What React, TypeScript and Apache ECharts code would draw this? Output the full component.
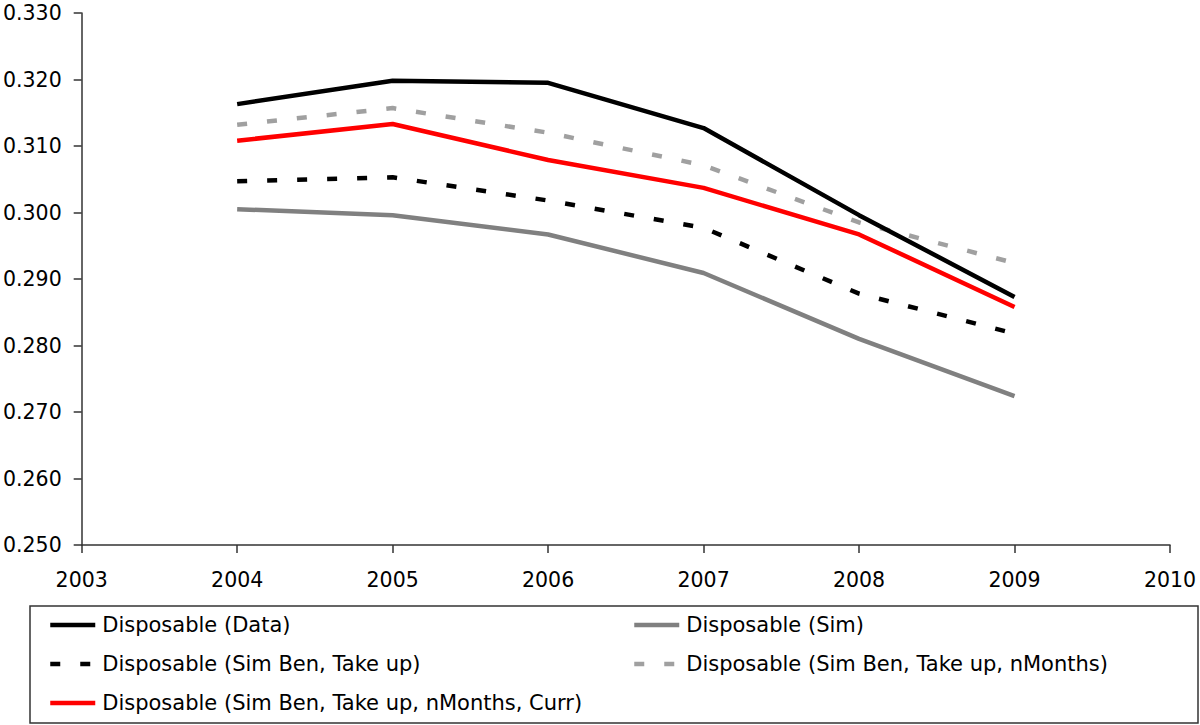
import React, { useEffect, useRef } from "react";
import * as echarts from "echarts";

const years = [2004, 2005, 2006, 2007, 2008, 2009];
const dispData = [0.3163, 0.3198, 0.3195, 0.3127, 0.2996, 0.2873];
const dispSim = [0.3005, 0.2996, 0.2967, 0.2909, 0.281, 0.2724];
const dispSimBenTakeUp = [0.3047, 0.3053, 0.3018, 0.2977, 0.2878, 0.2818];
const dispNMonths = [0.3132, 0.3157, 0.312, 0.3071, 0.2985, 0.2924];
const dispCurr = [0.3108, 0.3133, 0.3079, 0.3037, 0.2967, 0.2858];

const names = [
  "Disposable (Data)",
  "Disposable (Sim)",
  "Disposable (Sim Ben, Take up)",
  "Disposable (Sim Ben, Take up, nMonths)",
  "Disposable (Sim Ben, Take up, nMonths, Curr)",
];

const FONT = "'DejaVu Sans', 'Liberation Sans', Arial, sans-serif";

export default function App() {
  const ref = useRef<HTMLDivElement>(null);
  useEffect(() => {
    if (!ref.current) return;
    const chart = echarts.init(ref.current, undefined, { renderer: "svg" });
    const pairs = (vals: number[]) => years.map((y, i) => [y, vals[i]]);
    const mk = (name: string, vals: number[], color: string, dashed: boolean) => ({
      name,
      type: "line",
      data: pairs(vals),
      symbol: "none",
      showSymbol: false,
      lineStyle: { color, width: 4.5, type: dashed ? [10, 20] : "solid", cap: "butt" },
      itemStyle: { color },
      z: 3,
    });
    const legendCommon = {
      orient: "vertical",
      top: 613,
      padding: 0,
      itemWidth: 45,
      itemHeight: 10,
      itemGap: 15,
      itemStyle: { opacity: 0 },
      lineStyle: { width: 4.5, cap: "butt" },
      textStyle: { fontFamily: FONT, fontSize: 21, color: "#000", lineHeight: 24, padding: [0, 0, 0, 2] },
      selectedMode: false,
    };
    chart.setOption({
      animation: false,
      backgroundColor: "#fff",
      grid: { left: 78, right: 30, top: 13, bottom: 180 },
      xAxis: {
        type: "value",
        min: 2003,
        max: 2010,
        interval: 1,
        axisLine: { show: true, lineStyle: { color: "#333", width: 1.5 } },
        axisTick: { show: true, length: 8, inside: false, lineStyle: { color: "#333", width: 1.5 } },
        axisLabel: { fontFamily: FONT, fontSize: 20.5, color: "#000", margin: 24, formatter: (v: number) => String(v) },
        splitLine: { show: false },
      },
      yAxis: {
        type: "value",
        min: 0.25,
        max: 0.33,
        interval: 0.01,
        axisLine: { show: true, lineStyle: { color: "#333", width: 1.5 } },
        axisTick: { show: true, length: 8, lineStyle: { color: "#333", width: 1.5 } },
        axisLabel: { fontFamily: FONT, fontSize: 20.5, color: "#000", margin: 20, formatter: (v: number) => v.toFixed(3) },
        splitLine: { show: false },
      },
      legend: [
        { ...legendCommon, left: 48, data: [names[0], names[2], names[4]] },
        { ...legendCommon, left: 632, data: [names[1], names[3]] },
      ],
      graphic: [
        {
          type: "rect",
          shape: { x: 30, y: 606, width: 1168, height: 117 },
          style: { fill: "none", stroke: "#333", lineWidth: 1.5 },
          z: 0,
        },
      ],
      series: [
        mk(names[1], dispSim, "#808080", false),
        mk(names[2], dispSimBenTakeUp, "#000000", true),
        mk(names[3], dispNMonths, "#a0a0a0", true),
        mk(names[4], dispCurr, "#ff0000", false),
        mk(names[0], dispData, "#000000", false),
      ],
    });
    return () => chart.dispose();
  }, []);
  return (
    <div
      ref={ref}
      style={{ position: "fixed", left: 0, top: 0, width: 1200, height: 725, background: "#fff" }}
    />
  );
}
